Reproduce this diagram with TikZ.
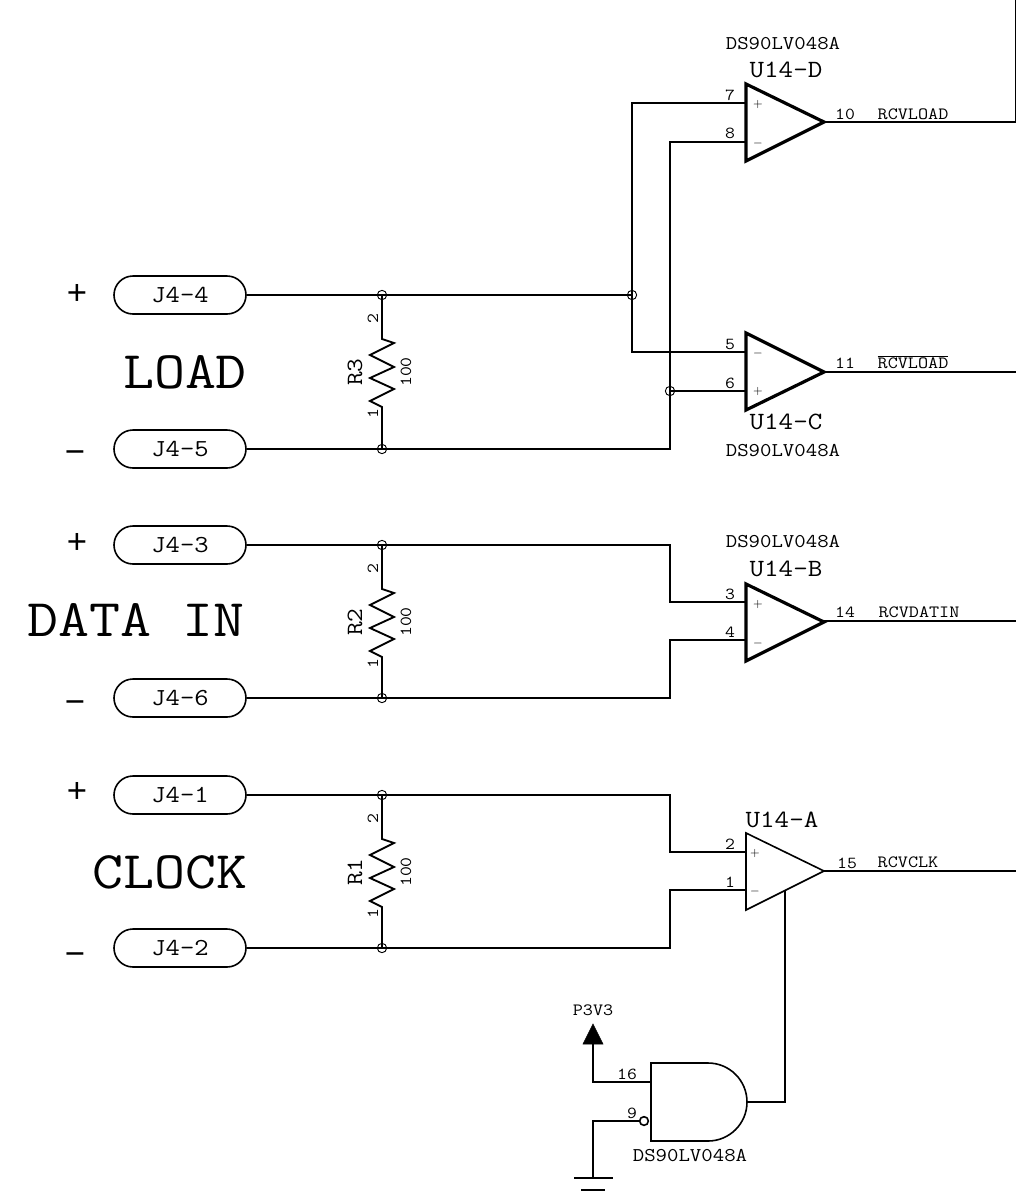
\documentclass[tikz,border=0pt]{standalone}
\usepackage{fontspec}
\setmonofont[FakeStretch=1.14]{Latin Modern Mono}
\newfontfamily\signfont{Liberation Sans}
\usetikzlibrary{shapes.misc}
\tikzset{
    wire/.style={line width=1.4pt, line join=miter},
    ampthick/.style={draw=black, line width=2.4pt, line join=miter},
    ampthin/.style={draw=black, line width=1.2pt, line join=miter},
    conn/.style={draw=black, line width=1.2pt, rounded rectangle, minimum width=99pt, minimum height=28.5pt, inner sep=0pt, font=\ttfamily\fontsize{18.3}{20}\selectfont},
    junc/.style={draw=black, circle, line width=.7pt, minimum size=7pt, inner sep=0pt},
    partname/.style={inner sep=0pt, font=\ttfamily\fontsize{14.6}{16}\selectfont},
    unitname/.style={inner sep=0pt, font=\ttfamily\fontsize{18.6}{20}\selectfont},
    resname/.style={inner sep=0pt, font=\ttfamily\fontsize{17.5}{19}\selectfont},
    pinnum/.style={inner sep=0pt, font=\ttfamily\fontsize{12.6}{14}\selectfont},
    signame/.style={inner sep=0pt, font=\ttfamily\fontsize{12.9}{14}\selectfont},
    polarity/.style={inner sep=0pt, font=\signfont\fontsize{26}{28}\selectfont},
    ampsign/.style={inner sep=0pt, font=\fontsize{9.5}{10}\selectfont},
    group/.style={inner sep=0pt, font=\ttfamily\fontsize{39.6}{43}\selectfont},
}
\begin{document}
\begin{tikzpicture}[x=.75pt, y=-.75pt]
    \useasboundingbox (0,0) rectangle (1016,1193);

    \node[conn] (j44) at (180,295) {J4-4};
    \node[conn] (j45) at (180,449) {J4-5};
    \node[conn] (j43) at (180,545) {J4-3};
    \node[conn] (j46) at (180,698) {J4-6};
    \node[conn] (j41) at (180,795) {J4-1};
    \node[conn] (j42) at (180,948) {J4-2};

    \node[polarity] (plusL) at (77,294) {+};
    \node[polarity] (minusL) at (75,457) {−};
    \node[polarity] (plusD) at (77,543) {+};
    \node[polarity] (minusD) at (75,707) {−};
    \node[polarity] (plusC) at (77,792) {+};
    \node[polarity] (minusC) at (75,959) {−};

    \node[group] (load) at (185,372) {LOAD};
    \node[group] (datain) at (136,620) {DATA IN};
    \node[group] (clock) at (170,872) {CLOCK};

    % junctions
    \node[junc] (r3top) at (382,295) {};
    \node[junc] (r3bot) at (382,449) {};
    \node[junc] (r2top) at (382,545) {};
    \node[junc] (r2bot) at (382,698) {};
    \node[junc] (r1top) at (382,795) {};
    \node[junc] (r1bot) at (382,948) {};
    \node[junc] (crossa) at (632,295) {};
    \node[junc] (crossb) at (670,391) {};

    % resistors
    \draw[wire] (r3top.center) -- (382,339) -- ++(12,4) -- ++(-24,12) -- ++(24,12) -- ++(-24,11) -- ++(24,11) -- ++(-24,12) -- ++(12,6) -- (r3bot.center);
    \draw[wire] (r2top.center) -- (382,589) -- ++(12,4) -- ++(-24,12) -- ++(24,12) -- ++(-24,11) -- ++(24,11) -- ++(-24,12) -- ++(12,6) -- (r2bot.center);
    \draw[wire] (r1top.center) -- (382,839) -- ++(12,4) -- ++(-24,12) -- ++(24,12) -- ++(-24,11) -- ++(24,11) -- ++(-24,12) -- ++(12,6) -- (r1bot.center);

    \node[pinnum, rotate=90] (r3p2) at (373,319) {2};
    \node[pinnum, rotate=90] (r3p1) at (373,414) {1};
    \node[resname, rotate=90] (r3name) at (355,372) {R3};
    \node[pinnum, rotate=90] (r3val) at (406,372) {100};
    \node[pinnum, rotate=90] (r2p2) at (373,569) {2};
    \node[pinnum, rotate=90] (r2p1) at (373,664) {1};
    \node[resname, rotate=90] (r2name) at (355,622) {R2};
    \node[pinnum, rotate=90] (r2val) at (406,622) {100};
    \node[pinnum, rotate=90] (r1p2) at (373,819) {2};
    \node[pinnum, rotate=90] (r1p1) at (373,914) {1};
    \node[resname, rotate=90] (r1name) at (355,872) {R1};
    \node[pinnum, rotate=90] (r1val) at (406,872) {100};

    % receivers
    \draw[ampthick] (746,84) -- (746,161) -- (824,122) -- cycle;
    \draw[ampthick] (746,333) -- (746,410) -- (824,372) -- cycle;
    \draw[ampthick] (746,584) -- (746,661) -- (824,622) -- cycle;
    \draw[ampthin] (746,833) -- (746,910) -- (824,871) -- cycle;

    \coordinate (d7) at (746,103);
    \coordinate (d8) at (746,142);
    \coordinate (d10) at (824,122);
    \coordinate (c5) at (746,352);
    \coordinate (c6) at (746,391);
    \coordinate (c11) at (824,372);
    \coordinate (b3) at (746,602);
    \coordinate (b4) at (746,640);
    \coordinate (b14) at (824,621);
    \coordinate (a2) at (746,852);
    \coordinate (a1) at (746,890);
    \coordinate (a15) at (824,871);
    \coordinate (a0) at (785,891);
    \coordinate (endd) at (1016,0);
    \coordinate (endc) at (1016,372);
    \coordinate (endb) at (1016,621);
    \coordinate (enda) at (1016,871);

    \draw[wire] (j44) -- (crossa.center);
    \draw[wire] (j45) -- (670,449) -- (crossb.center);
    \draw[wire] (d7) -- (632,103) -- (crossa.center);
    \draw[wire] (crossa.center) -- (632,352) -- (c5);
    \draw[wire] (d8) -- (670,142) -- (crossb.center);
    \draw[wire] (crossb.center) -- (c6);
    \draw[wire] (j43) -- (670,545) -- (670,602) -- (b3);
    \draw[wire] (j46) -- (670,698) -- (670,640) -- (b4);
    \draw[wire] (j41) -- (670,795) -- (670,852) -- (a2);
    \draw[wire] (j42) -- (670,948) -- (670,890) -- (a1);
    \draw[wire] (d10) -- (1016,122) -- (endd);
    \draw[wire] (c11) -- (endc);
    \draw[wire] (b14) -- (endb);
    \draw[wire] (a15) -- (enda);

    \node[partname] (partd) at (783,44) {DS90LV048A};
    \node[unitname] (unitd) at (786,70) {U14-D};
    \node[pinnum] (pin7) at (730,95) {7};
    \node[pinnum] (pin8) at (730,133) {8};
    \node[ampsign] (dplus) at (758,104) {$+$};
    \node[ampsign] (dminus) at (758,143) {$-$};
    \node[pinnum] (pin10) at (845,114) {10};
    \node[signame] (sigd) at (913,114) {RCVLOAD};

    \node[pinnum] (pin5) at (730,344) {5};
    \node[pinnum] (pin6) at (730,383) {6};
    \node[ampsign] (cminus) at (758,353) {$-$};
    \node[ampsign] (cplus) at (758,391) {$+$};
    \node[pinnum] (pin11) at (845,363) {11};
    \node[signame] (sigc) at (913,362) {$\overline{\mbox{RCVLOAD}}$};
    \node[unitname] (unitc) at (786,422) {U14-C};
    \node[partname] (partc) at (783,451) {DS90LV048A};

    \node[partname] (partb) at (783,542) {DS90LV048A};
    \node[unitname] (unitb) at (786,569) {U14-B};
    \node[pinnum] (pin3) at (730,594) {3};
    \node[pinnum] (pin4) at (730,632) {4};
    \node[ampsign] (bplus) at (758,604) {$+$};
    \node[ampsign] (bminus) at (758,643) {$-$};
    \node[pinnum] (pin14) at (845,612) {14};
    \node[signame] (sigb) at (919,612) {RCVDATIN};

    \node[unitname] (unita) at (782,820) {U14-A};
    \node[pinnum] (pin2) at (730,844) {2};
    \node[pinnum] (pin1) at (730,882) {1};
    \node[ampsign] (aplus) at (755,853) {$+$};
    \node[ampsign] (aminus) at (755,891) {$-$};
    \node[pinnum] (pin15) at (847,863) {15};
    \node[signame] (siga) at (908,862) {RCVCLK};

    % enable gate
    \draw[ampthin] (651,1063) -- (708,1063) arc (-90:90:39) -- (651,1141) -- cycle;
    \node[junc, line width=1.2pt, minimum size=6.5pt] (bubble) at (644,1121) {};
    \coordinate (gatein) at (651,1082);
    \coordinate (gateout) at (747,1102);
    \coordinate (vcc) at (593,1044);
    \coordinate (gnd) at (593,1178);
    \draw[wire] (gateout) -- (785,1102) -- (a0);
    \draw[wire] (gatein) -- (593,1082) -- (vcc);
    \draw[wire] (bubble) -- (593,1121) -- (gnd);
    \filldraw[draw=black, fill=black] (583,1044) -- (603,1044) -- (593,1024) -- cycle;
    \draw[ampthin] (574,1178) -- (613,1178);
    \draw[ampthin] (581,1190) -- (605,1190);
    \node[signame] (p3v3) at (593,1010) {P3V3};
    \node[pinnum] (pin16) at (627,1074) {16};
    \node[pinnum] (pin9) at (632,1113) {9};
    \node[partname] (parte) at (690,1156) {DS90LV048A};
\end{tikzpicture}
\end{document}
